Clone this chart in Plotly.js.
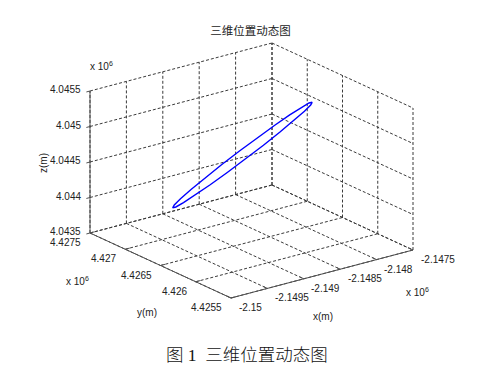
<!DOCTYPE html>
<html>
<head>
<meta charset="utf-8">
<script src="https://cdn.plot.ly/plotly-3.0.1.min.js"></script>
<style>html,body{margin:0;padding:0;background:#fff;}#chart{width:485px;height:381px;}</style>
</head>
<body>
<div id="chart"></div>
<script>
// ---- data (metres) ----
const posX = [-2147800, -2148002, -2148255, -2148542, -2148843, -2149138, -2149406, -2149630, -2149793, -2149886, -2149901, -2149837, -2149700, -2149498, -2149245, -2148958, -2148657, -2148362, -2148094, -2147870, -2147707, -2147614, -2147599, -2147663, -2147800];
const posY = [4426619, 4426433, 4426260, 4426113, 4426000, 4425930, 4425908, 4425935, 4426009, 4426125, 4426276, 4426450, 4426637, 4426823, 4426996, 4427143, 4427256, 4427326, 4427348, 4427321, 4427247, 4427131, 4426980, 4426806, 4426619];
const posZ = [4045150, 4045250, 4045310, 4045325, 4045296, 4045222, 4045111, 4044969, 4044806, 4044632, 4044461, 4044303, 4044170, 4044070, 4044010, 4043995, 4044024, 4044098, 4044209, 4044351, 4044514, 4044688, 4044859, 4045017, 4045150];

const xTicks = [-2150000, -2149500, -2149000, -2148500, -2148000, -2147500];
const yTicks = [4425500, 4426000, 4426500, 4427000, 4427500];
const zTicks = [4043500, 4044000, 4044500, 4045000, 4045500];
const xTickLabels = ['-2.15', '-2.1495', '-2.149', '-2.1485', '-2.148', '-2.1475'];
const yTickLabels = ['4.4255', '4.426', '4.4265', '4.427', '4.4275'];
const zTickLabels = ['4.0435', '4.044', '4.0445', '4.045', '4.0455'];

const titleText = '三维位置动态图';
const captionText = '图 1  三维位置动态图';

// ---- view (orthographic projection of the axes box onto the page) ----
const O = [90, 233], U = [182, -48], V = [141, 65], Wv = [0, -142];
const xMin = xTicks[0], xMax = xTicks[xTicks.length - 1];
const yMin = yTicks[0], yMax = yTicks[yTicks.length - 1];
const zMin = zTicks[0], zMax = zTicks[zTicks.length - 1];

function proj(x, y, z) {
  const u = (x - xMin) / (xMax - xMin);
  const v = (yMax - y) / (yMax - yMin);
  const w = (z - zMin) / (zMax - zMin);
  return [O[0] + u * U[0] + v * V[0] + w * Wv[0], O[1] + u * U[1] + v * V[1] + w * Wv[1]];
}
function seg(a, p, q) { a.x.push(p[0], q[0], null); a.y.push(p[1], q[1], null); }

const grid = {x: [], y: []};
xTicks.forEach(t => {
  seg(grid, proj(t, yMax, zMin), proj(t, yMax, zMax));
  seg(grid, proj(t, yMax, zMin), proj(t, yMin, zMin));
});
yTicks.forEach(t => {
  seg(grid, proj(xMax, t, zMin), proj(xMax, t, zMax));
  seg(grid, proj(xMin, t, zMin), proj(xMax, t, zMin));
});
zTicks.forEach(t => {
  seg(grid, proj(xMin, yMax, t), proj(xMax, yMax, t));
  seg(grid, proj(xMax, yMax, t), proj(xMax, yMin, t));
});

const axes = {x: [], y: []};
seg(axes, proj(xMin, yMax, zMin), proj(xMin, yMax, zMax));
seg(axes, proj(xMin, yMax, zMin), proj(xMin, yMin, zMin));
seg(axes, proj(xMin, yMin, zMin), proj(xMax, yMin, zMin));
xTicks.forEach(t => seg(axes, proj(t, yMin, zMin), proj(t, yMin + 0.03 * (yMax - yMin), zMin)));
yTicks.forEach(t => seg(axes, proj(xMin, t, zMin), proj(xMin + 0.025 * (xMax - xMin), t, zMin)));
zTicks.forEach(t => seg(axes, proj(xMin, yMax, t), proj(xMin - 0.02 * (xMax - xMin), yMax, t)));

const curve = {x: [], y: []};
for (let i = 0; i < posX.length; i++) {
  const p = proj(posX[i], posY[i], posZ[i]);
  curve.x.push(p[0]); curve.y.push(p[1]);
}

const traces = [
  {type: 'scatter', mode: 'lines', x: grid.x, y: grid.y, line: {color: '#3a3a3a', width: 1, dash: '3px,2px'}, hoverinfo: 'skip'},
  {type: 'scatter', mode: 'lines', x: axes.x, y: axes.y, line: {color: '#505050', width: 1}, hoverinfo: 'skip'},
  {type: 'scatter', mode: 'lines', x: curve.x, y: curve.y, line: {color: '#0000ff', width: 1.4}, name: 'position'}
];

const tickFont = {family: 'Liberation Sans, Arial, sans-serif', size: 10, color: '#222'};
const ann = [];
zTicks.forEach((t, i) => {
  const p = proj(xMin, yMax, t);
  ann.push({x: p[0] - 8, y: p[1] - 1.5, text: zTickLabels[i], xanchor: 'right', yanchor: 'middle'});
});
yTicks.forEach((t, i) => {
  const p = proj(xMin, t, zMin);
  ann.push({x: p[0] - 8, y: p[1] + 9.5, text: yTickLabels[i], xanchor: 'right', yanchor: 'middle'});
});
xTicks.forEach((t, i) => {
  const p = proj(t, yMin, zMin);
  ann.push({x: p[0] + 6.5, y: p[1] + 9.5, text: xTickLabels[i], xanchor: 'left', yanchor: 'middle'});
});
ann.forEach(a => { a.xref = 'x'; a.yref = 'y'; a.showarrow = false; a.font = tickFont; a.borderpad = 0; });

const extra = [
  {x: 89, y: 66, text: 'x 10<sup>6</sup>', xanchor: 'left'},
  {x: 65, y: 281, text: 'x 10<sup>6</sup>', xanchor: 'left'},
  {x: 405, y: 292, text: 'x 10<sup>6</sup>', xanchor: 'left'},
  {x: 43, y: 163, text: 'z(m)', xanchor: 'center', textangle: -90},
  {x: 147, y: 312, text: 'y(m)', xanchor: 'center'},
  {x: 323, y: 316, text: 'x(m)', xanchor: 'center'}
];
extra.forEach(a => { a.xref = 'x'; a.yref = 'y'; a.yanchor = 'middle'; a.showarrow = false; a.font = tickFont; a.borderpad = 0; ann.push(a); });

ann.push({xref: 'x', yref: 'y', x: 246.5, y: 355, text: captionText, showarrow: false, xanchor: 'center', yanchor: 'middle',
  font: {family: "'Liberation Serif', 'Noto Sans CJK SC', serif", size: 17.5, weight: 300, color: '#111'}});

const layout = {
  width: 485, height: 381, autosize: false,
  margin: {l: 0, r: 0, t: 0, b: 0, pad: 0},
  paper_bgcolor: '#fff', plot_bgcolor: '#fff',
  showlegend: false,
  title: {text: titleText, x: 250.5 / 485, xanchor: 'center', xref: 'paper', y: 1 - 31 / 381, yanchor: 'middle', yref: 'container',
    font: {family: "'Noto Sans CJK SC', sans-serif", size: 11.5, color: '#222'}},
  xaxis: {range: [0, 485], visible: false, fixedrange: true},
  yaxis: {range: [381, 0], visible: false, fixedrange: true},
  annotations: ann
};

Plotly.newPlot('chart', traces, layout, {staticPlot: true, displayModeBar: false});
</script>
</body>
</html>
